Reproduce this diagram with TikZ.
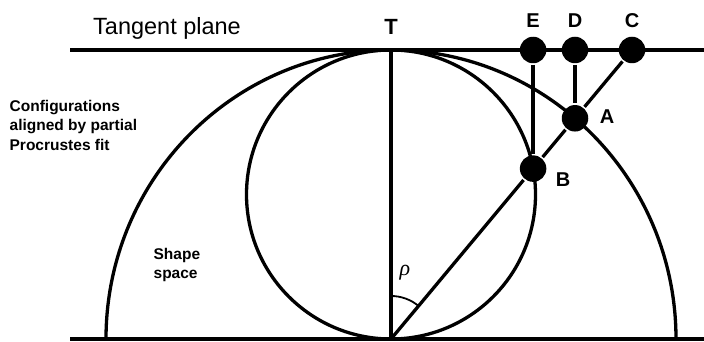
\documentclass[tikz,border=0pt]{standalone}
\usepackage{fontspec}
\setmainfont{Liberation Sans}
\newfontfamily\rhofont{Liberation Serif}
\begin{document}
\begin{tikzpicture}[x=1pt,y=1pt,line width=3.3pt,
  dot/.style={circle,fill,inner sep=0pt,minimum size=26.5pt},
  lbl/.style={font=\fontsize{20}{20}\selectfont\bfseries,inner sep=0pt},
  note/.style={font=\fontsize{15.5}{19.5}\selectfont\bfseries,inner sep=0pt,align=left,anchor=west}]
\useasboundingbox (0,0) rectangle (704,342);
% base coordinates
\coordinate (O) at (391,3);
\coordinate (T) at (391,292);
\coordinate (TL) at (70,292);
\coordinate (TR) at (704,292);
\coordinate (BL) at (70,3);
\coordinate (BR) at (704,3);
\coordinate (SC) at (391,147.5);
% lines
\draw (TL) -- (TR);
\draw (BL) -- (BR);
\draw (O) ++(285,0) arc[start angle=0,end angle=180,x radius=285,y radius=289];
\draw (SC) circle (144.5);
\draw (T) -- (O);
% points
\node[dot] (A) at (575,223.7) {};
\node[dot] (B) at (533.1,173.4) {};
\node[dot] (C) at (632,292) {};
\node[dot] (D) at (575,292) {};
\node[dot] (E) at (533.1,292) {};
\draw (O) -- (B);
\draw (B) -- (A);
\draw (A) -- (C);
\draw (E) -- (B);
\draw (D) -- (A);
% angle
\draw[line width=1.8pt] (391,46) arc[start angle=90,end angle=50.17,radius=43];
\node[inner sep=0pt,font=\fontsize{22}{22}\selectfont\rhofont\itshape] (rho) at (405,69) {ρ};
% labels
\node[lbl,font=\fontsize{22}{22}\selectfont\bfseries] (lT) at (391,315) {T};
\node[lbl] (lE) at (533,321) {E};
\node[lbl] (lD) at (575,321) {D};
\node[lbl] (lC) at (632,321) {C};
\node[lbl] (lA) at (607,225) {A};
\node[lbl] (lB) at (563,162) {B};
\node[inner sep=0pt,font=\fontsize{23.5}{23.5}\selectfont] (tp) at (167,314) {Tangent plane};
\node[note] (conf) at (8,217) {Configurations\\aligned by partial\\Procrustes fit};
\node[note] (ss) at (152,77) {Shape\\space};
\end{tikzpicture}
\end{document}
